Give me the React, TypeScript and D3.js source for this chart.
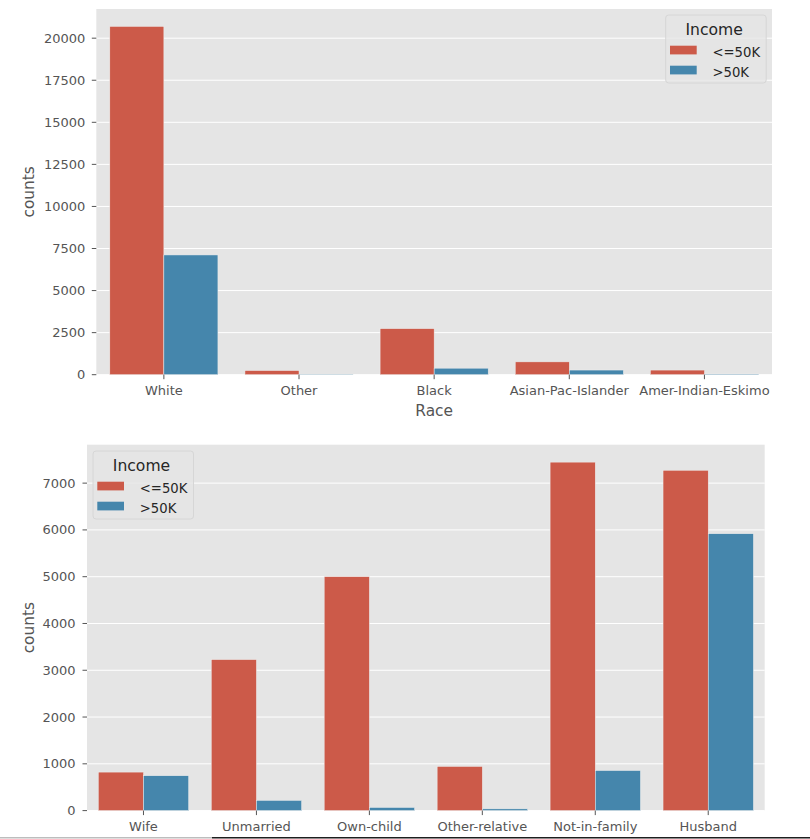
import React from "react";
import * as d3 from "d3";

const raceCategories = ["White", "Other", "Black", "Asian-Pac-Islander", "Amer-Indian-Eskimo"];
const raceLow = [20699, 246, 2737, 763, 275];
const raceHigh = [7117, 25, 387, 276, 36];
const raceTicks = [0, 2500, 5000, 7500, 10000, 12500, 15000, 17500, 20000];

const relCategories = ["Wife", "Unmarried", "Own-child", "Other-relative", "Not-in-family", "Husband"];
const relLow = [823, 3228, 5001, 944, 7449, 7275];
const relHigh = [745, 218, 67, 37, 856, 5918];
const relTicks = [0, 1000, 2000, 3000, 4000, 5000, 6000, 7000];

const seriesNames = ["<=50K", ">50K"];
const colors = ["#CC5A49", "#4586AC"];

const FONT = "DejaVu Sans, sans-serif";

type ChartProps = {
  cats: string[];
  low: number[];
  high: number[];
  ticks: number[];
  left: number;
  right: number;
  top: number;
  bottom: number;
  xLabel?: string;
  xLabelY?: number;
  tickLabelBaseline: number;
  legendX: number;
  legendY: number;
  yLabelGap: number;
};

function BarChart(p: ChartProps) {
  const maxV = d3.max([...p.low, ...p.high]) as number;
  const y = d3.scaleLinear().domain([0, maxV * 1.05]).range([p.bottom, p.top]);
  const x = d3.scaleBand<string>().domain(p.cats).range([p.left, p.right]).padding(0);
  const bw = x.bandwidth();
  const barW = bw * 0.4;
  const series = [p.low, p.high];
  return (
    <g>
      <rect x={p.left} y={p.top} width={p.right - p.left} height={p.bottom - p.top} fill="#E5E5E5" />
      {p.ticks.map((t) => (
        <g key={t}>
          <line x1={p.left} x2={p.right} y1={y(t)} y2={y(t)} stroke="#FFFFFF" strokeWidth={1} />
          <line x1={p.left - 4.5} x2={p.left} y1={y(t)} y2={y(t)} stroke="#555" strokeWidth={1} />
          <text x={p.left - p.yLabelGap} y={y(t)} dy="0.35em" textAnchor="end" fontSize={13} fill="#555" fontFamily={FONT}>
            {t}
          </text>
        </g>
      ))}
      {series.map((vals, si) =>
        p.cats.map((c, i) => {
          const cx = (x(c) as number) + bw / 2;
          const x0 = cx - barW + si * barW;
          return (
            <rect
              key={c + si}
              x={x0}
              y={y(vals[i])}
              width={barW}
              height={p.bottom - y(vals[i])}
              fill={colors[si]}
              stroke="#EEEEEE"
              strokeWidth={0.5}
            />
          );
        })
      )}
      {p.cats.map((c) => {
        const cx = (x(c) as number) + bw / 2;
        return (
          <g key={c}>
            <line x1={cx} x2={cx} y1={p.bottom} y2={p.bottom + 4.5} stroke="#555" strokeWidth={1} />
            <text x={cx} y={p.tickLabelBaseline} textAnchor="middle" fontSize={13} fill="#555" fontFamily={FONT}>
              {c}
            </text>
          </g>
        );
      })}
      <text
        transform={`translate(34,${(p.top + p.bottom) / 2}) rotate(-90)`}
        textAnchor="middle"
        fontSize={15.4}
        fill="#555"
        fontFamily={FONT}
      >
        counts
      </text>
      {p.xLabel && (
        <text x={(p.left + p.right) / 2} y={p.xLabelY} textAnchor="middle" fontSize={15.4} fill="#555" fontFamily={FONT}>
          {p.xLabel}
        </text>
      )}
      <g transform={`translate(${p.legendX},${p.legendY})`}>
        <rect x={0} y={0} width={100.5} height={68} rx={3} fill="#E5E5E5" fillOpacity={0.8} stroke="#D6D6D6" strokeWidth={1} />
        <text x={48.5} y={20} textAnchor="middle" fontSize={15.6} fill="#262626" fontFamily={FONT}>
          Income
        </text>
        {seriesNames.map((s, i) => (
          <g key={s}>
            <rect x={4.3} y={30.7 + i * 20} width={26.7} height={8.7} fill={colors[i]} />
            <text x={46.8} y={42.3 + i * 20} fontSize={13.2} fill="#262626" fontFamily={FONT}>
              {s}
            </text>
          </g>
        ))}
      </g>
    </g>
  );
}

export default function App() {
  return (
    <svg width={810} height={839} style={{ position: "absolute", left: 0, top: 0, background: "#fff" }}>
      <rect x={0} y={0} width={810} height={839} fill="#FFFFFF" />
      <BarChart
        cats={raceCategories}
        low={raceLow}
        high={raceHigh}
        ticks={raceTicks}
        left={96.3}
        right={772}
        top={9}
        bottom={374.7}
        xLabel="Race"
        xLabelY={416}
        tickLabelBaseline={394.5}
        legendX={665.7}
        legendY={15}
        yLabelGap={11}
      />
      <BarChart
        cats={relCategories}
        low={relLow}
        high={relHigh}
        ticks={relTicks}
        left={87}
        right={764.7}
        top={444.7}
        bottom={810.6}
        tickLabelBaseline={830.5}
        legendX={93}
        legendY={451}
        yLabelGap={11.5}
      />
      <line x1={0} x2={212} y1={837.8} y2={837.8} stroke="#BDBDBD" strokeWidth={1.5} />
      <line x1={212} x2={810} y1={837.8} y2={837.8} stroke="#1E1E1E" strokeWidth={1.5} />
    </svg>
  );
}
